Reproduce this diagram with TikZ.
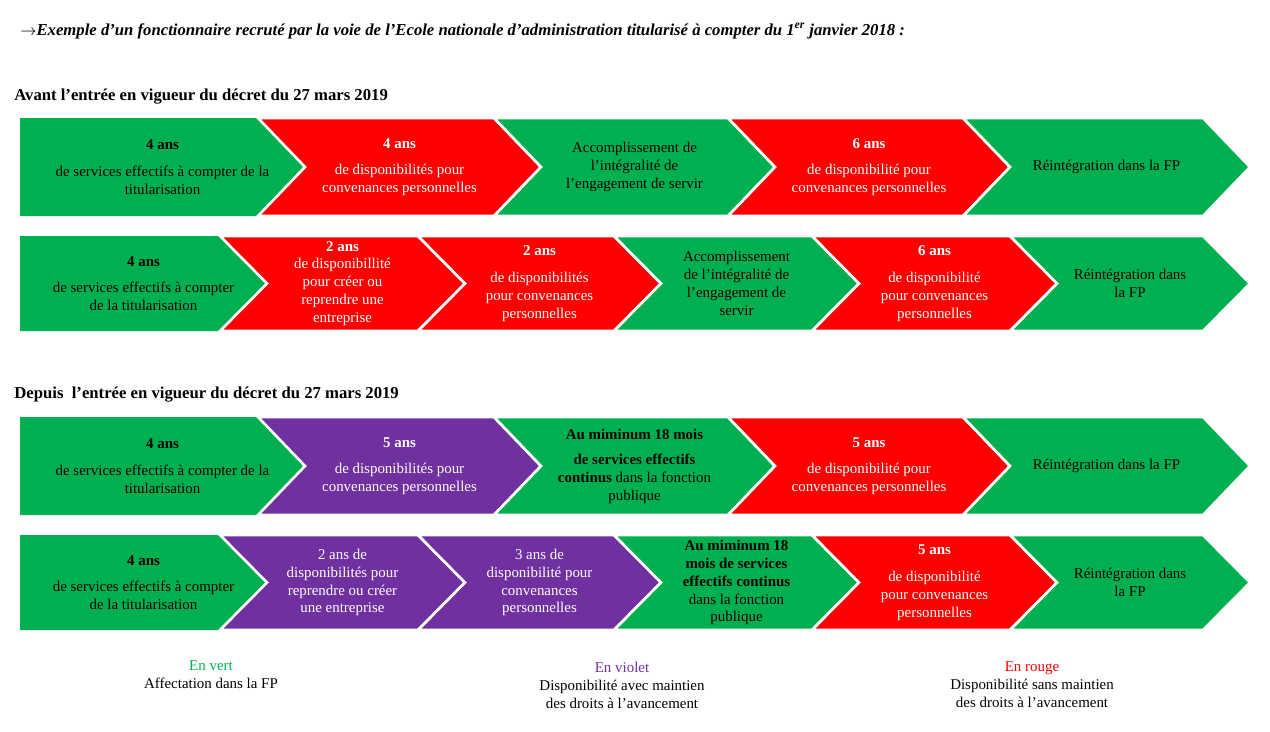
\documentclass[tikz,border=0pt]{standalone}
\usepackage{fontspec}
\setmainfont{Liberation Serif}
\usetikzlibrary{calc}
\definecolor{fpgreen}{HTML}{00B050}
\definecolor{fpred}{HTML}{FF0000}
\definecolor{fpviolet}{HTML}{7030A0}

% chevron: name, x0, x1, ytop, ybot, fill, text colour, text
\newcommand\chevfirst[8]{%
  \fill[#6] (#2,#4) -- (#3,#4) -- ({#3+47},{(#4+#5)/2}) -- (#3,#5) -- (#2,#5) -- cycle;
  \node[lbl,text=#7] (#1) at ({(#2+#3+47)/2},{(#4+#5)/2}) {#8};}
\newcommand\chevnext[8]{%
  \draw[#6,fill=#6!100,draw=white,line width=1.5pt] (#2,#4) -- (#3,#4) -- ({#3+47},{(#4+#5)/2}) -- (#3,#5) -- (#2,#5) -- ({#2+47},{(#4+#5)/2}) -- cycle;
  \node[lbl,text=#7] (#1) at ({(#2+#3+47)/2},{(#4+#5)/2}) {#8};}

\begin{document}
\begin{tikzpicture}[x=0.02cm,y=-0.02cm,
  lbl/.style={align=center,font=\fontsize{8.5}{10.2}\selectfont,inner sep=0pt},
  head/.style={anchor=west,font=\fontsize{9.5}{11}\selectfont\bfseries,inner sep=0pt},
  legend/.style={align=center,font=\fontsize{8.5}{10.2}\selectfont,inner sep=0pt}]
  \useasboundingbox (0,0) rectangle (1270,731);

  \node[head,font=\fontsize{9.5}{11}\selectfont\bfseries\itshape] (title) at (20,31)
    {$\rightarrow$Exemple d’un fonctionnaire recruté par la voie de l’Ecole nationale d’administration titularisé à compter du 1\textsuperscript{er} janvier 2018 :};
  \node[head] (avant) at (14,97) {Avant l’entrée en vigueur du décret du 27 mars 2019};
  \node[head] (depuis) at (14,395) {Depuis\ \ l’entrée en vigueur du décret du 27 mars 2019};

  % row 1
  \chevfirst{a1}{20}{258}{118}{216}{fpgreen}{black}{\textbf{4 ans}\\[5pt]de services effectifs à compter de la\\titularisation}
  \chevnext{a2}{258}{494}{118}{216}{fpred}{white}{\textbf{4 ans}\\[5pt]de disponibilités pour\\convenances personnelles}
  \chevnext{a3}{494}{728}{118}{216}{fpgreen}{black}{Accomplissement de\\l’intégralité de\\l’engagement de servir}
  \chevnext{a4}{728}{963}{118}{216}{fpred}{white}{\textbf{6 ans}\\[5pt]de disponibilité pour\\convenances personnelles}
  \chevnext{a5}{963}{1203}{118}{216}{fpgreen}{black}{Réintégration dans la FP}

  % row 2
  \chevfirst{b1}{20}{220}{236}{331}{fpgreen}{black}{\textbf{4 ans}\\[5pt]de services effectifs à compter\\de la titularisation}
  \chevnext{b2}{220}{418}{236}{331}{fpred}{white}{\textbf{2 ans}\\de disponibillité\\pour créer ou\\reprendre une\\entreprise}
  \chevnext{b3}{418}{614}{236}{331}{fpred}{white}{\textbf{2 ans}\\[5pt]de disponibilités\\pour convenances\\personnelles}
  \chevnext{b4}{614}{812}{236}{331}{fpgreen}{black}{Accomplissement\\de l’intégralité de\\l’engagement de\\servir}
  \chevnext{b5}{812}{1010}{236}{331}{fpred}{white}{\textbf{6 ans}\\[5pt]de disponibilité\\pour convenances\\personnelles}
  \chevnext{b6}{1010}{1203}{236}{331}{fpgreen}{black}{Réintégration dans\\la FP}

  % row 3
  \chevfirst{c1}{20}{258}{417}{515}{fpgreen}{black}{\textbf{4 ans}\\[5pt]de services effectifs à compter de la\\titularisation}
  \chevnext{c2}{258}{494}{417}{515}{fpviolet}{white}{\textbf{5 ans}\\[5pt]de disponibilités pour\\convenances personnelles}
  \chevnext{c3}{494}{728}{417}{515}{fpgreen}{black}{\textbf{Au miminum 18 mois}\\[4pt]\textbf{de services effectifs}\\\textbf{continus} dans la fonction\\publique}
  \chevnext{c4}{728}{963}{417}{515}{fpred}{white}{\textbf{5 ans}\\[5pt]de disponibilité pour\\convenances personnelles}
  \chevnext{c5}{963}{1203}{417}{515}{fpgreen}{black}{Réintégration dans la FP}

  % row 4
  \chevfirst{d1}{20}{220}{535}{630}{fpgreen}{black}{\textbf{4 ans}\\[5pt]de services effectifs à compter\\de la titularisation}
  \chevnext{d2}{220}{418}{535}{630}{fpviolet}{white}{2 ans de\\disponibilités pour\\reprendre ou créer\\une entreprise}
  \chevnext{d3}{418}{614}{535}{630}{fpviolet}{white}{3 ans de\\disponibilité pour\\convenances\\personnelles}
  \chevnext{d4}{614}{812}{535}{630}{fpgreen}{black}{\textbf{Au miminum 18}\\\textbf{mois de services}\\\textbf{effectifs continus}\\dans la fonction\\publique}
  \chevnext{d5}{812}{1010}{535}{630}{fpred}{white}{\textbf{5 ans}\\[5pt]de disponibilité\\pour convenances\\personnelles}
  \chevnext{d6}{1010}{1203}{535}{630}{fpgreen}{black}{Réintégration dans\\la FP}

  % legend
  \node[legend] (vert) at (211,675) {\textcolor{fpgreen}{En vert}\\Affectation dans la FP};
  \node[legend] (violet) at (622,685) {\textcolor{fpviolet}{En violet}\\Disponibilité avec maintien\\des droits à l’avancement};
  \node[legend] (rouge) at (1032,685) {\textcolor{fpred}{En rouge}\\Disponibilité sans maintien\\des droits à l’avancement};
\end{tikzpicture}
\end{document}
